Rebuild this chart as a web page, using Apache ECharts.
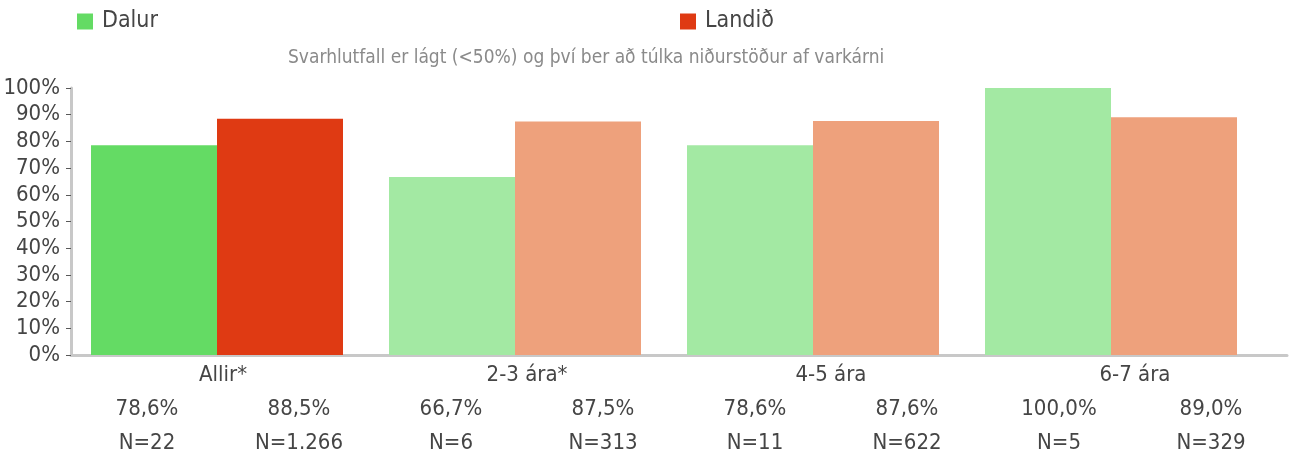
<!DOCTYPE html>
<html>
<head>
<meta charset="utf-8">
<script src="https://cdn.jsdelivr.net/npm/echarts@6/dist/echarts.min.js"></script>
<style>
  html, body { margin: 0; padding: 0; background: #ffffff; }
  #chart { width: 1296px; height: 457px; }
</style>
</head>
<body>
<div id="chart"></div>
<script>
// Age groups and the response share per group
const categories = ['Allir*', '2-3 ára*', '4-5 ára', '6-7 ára'];
const dalurValues = [78.6, 66.7, 78.6, 100.0];
const landidValues = [88.5, 87.5, 87.6, 89.0];
const dalurN = [22, 6, 11, 5];
const landidN = [1266, 313, 622, 329];
const seriesNames = ['Dalur', 'Landið'];
const subtitle = 'Svarhlutfall er lágt (<50%) og því ber að túlka niðurstöður af varkárni';

const FONT = "'Liberation Sans Narrow', 'DejaVu Sans Condensed', 'Liberation Sans', sans-serif";
const TEXT = '#454545';
const AXIS_GREY = '#c8c8c8';

// The "all" group is drawn in full colour, the age groups in a lighter tint
const dalurColour = { strong: '#64db64', light: '#a3e9a3' };
const landidColour = { strong: '#df3a13', light: '#eea17c' };

const pct = v => v.toFixed(1).replace('.', ',') + '%';
const thousands = n => String(n).replace(/\B(?=(\d{3})+(?!\d))/g, '.');

function barData(values, colours) {
  return values.map((v, i) => ({
    value: v,
    itemStyle: { color: i === 0 ? colours.strong : colours.light }
  }));
}

const legendBase = {
  icon: 'rect', padding: 0,
  itemWidth: 16, itemHeight: 16, itemGap: 8,
  textStyle: { fontFamily: FONT, fontSize: 23, color: TEXT, padding: [0, 0, 0, 4] }
};

const chart = echarts.init(document.getElementById('chart'), null, { renderer: 'canvas' });

chart.setOption({
  backgroundColor: '#ffffff',
  animation: false,
  title: {
    text: subtitle,
    left: 283,
    top: 44,
    textStyle: { fontFamily: FONT, fontSize: 19, fontWeight: 'normal', color: '#8a8a8a' }
  },
  legend: [
    Object.assign({ data: [seriesNames[0]], left: 77, top: 10 }, legendBase),
    Object.assign({ data: [seriesNames[1]], left: 680, top: 10 }, legendBase)
  ],
  grid: [
    // bars
    { left: 68, right: 36, top: 88, bottom: 102 },
    // visible axes and category table
    { left: 71, right: 9, top: 88, bottom: 102 }
  ],
  xAxis: [
    { type: 'category', gridIndex: 0, data: categories, show: false },
    {
      type: 'category', gridIndex: 1, data: categories,
      axisLine: { lineStyle: { color: AXIS_GREY, width: 3 } },
      axisTick: { show: false },
      axisLabel: {
        interval: 0,
        margin: 3,
        formatter: (name, i) => {
          return '{c|' + name + '}\n' +
            '{v|' + pct(dalurValues[i]) + '}{v|' + pct(landidValues[i]) + '}\n' +
            '{v|N=' + thousands(dalurN[i]) + '}{v|N=' + thousands(landidN[i]) + '}';
        },
        rich: {
          c: { width: 304, align: 'center', lineHeight: 34, fontFamily: FONT, fontSize: 22, color: TEXT },
          v: { width: 152, align: 'center', lineHeight: 34, fontFamily: FONT, fontSize: 22, color: TEXT }
        }
      }
    }
  ],
  yAxis: [
    { type: 'value', gridIndex: 0, min: 0, max: 100, interval: 10, show: false },
    {
      type: 'value', gridIndex: 1, min: 0, max: 100, interval: 10,
      splitLine: { show: false },
      axisLine: { show: true, lineStyle: { color: AXIS_GREY, width: 3 } },
      axisTick: { show: true, length: 5, lineStyle: { color: '#595959', width: 1 } },
      axisLabel: {
        margin: 11,
        formatter: v => v + '%',
        fontFamily: FONT, fontSize: 22, color: TEXT
      }
    }
  ],
  series: [
    {
      name: seriesNames[0], type: 'bar', xAxisIndex: 0, yAxisIndex: 0,
      barWidth: 126, barGap: '0%',
      itemStyle: { color: dalurColour.strong },
      data: barData(dalurValues, dalurColour)
    },
    {
      name: seriesNames[1], type: 'bar', xAxisIndex: 0, yAxisIndex: 0,
      barWidth: 126, barGap: '0%',
      itemStyle: { color: landidColour.strong },
      data: barData(landidValues, landidColour)
    }
  ]
});
</script>
</body>
</html>
